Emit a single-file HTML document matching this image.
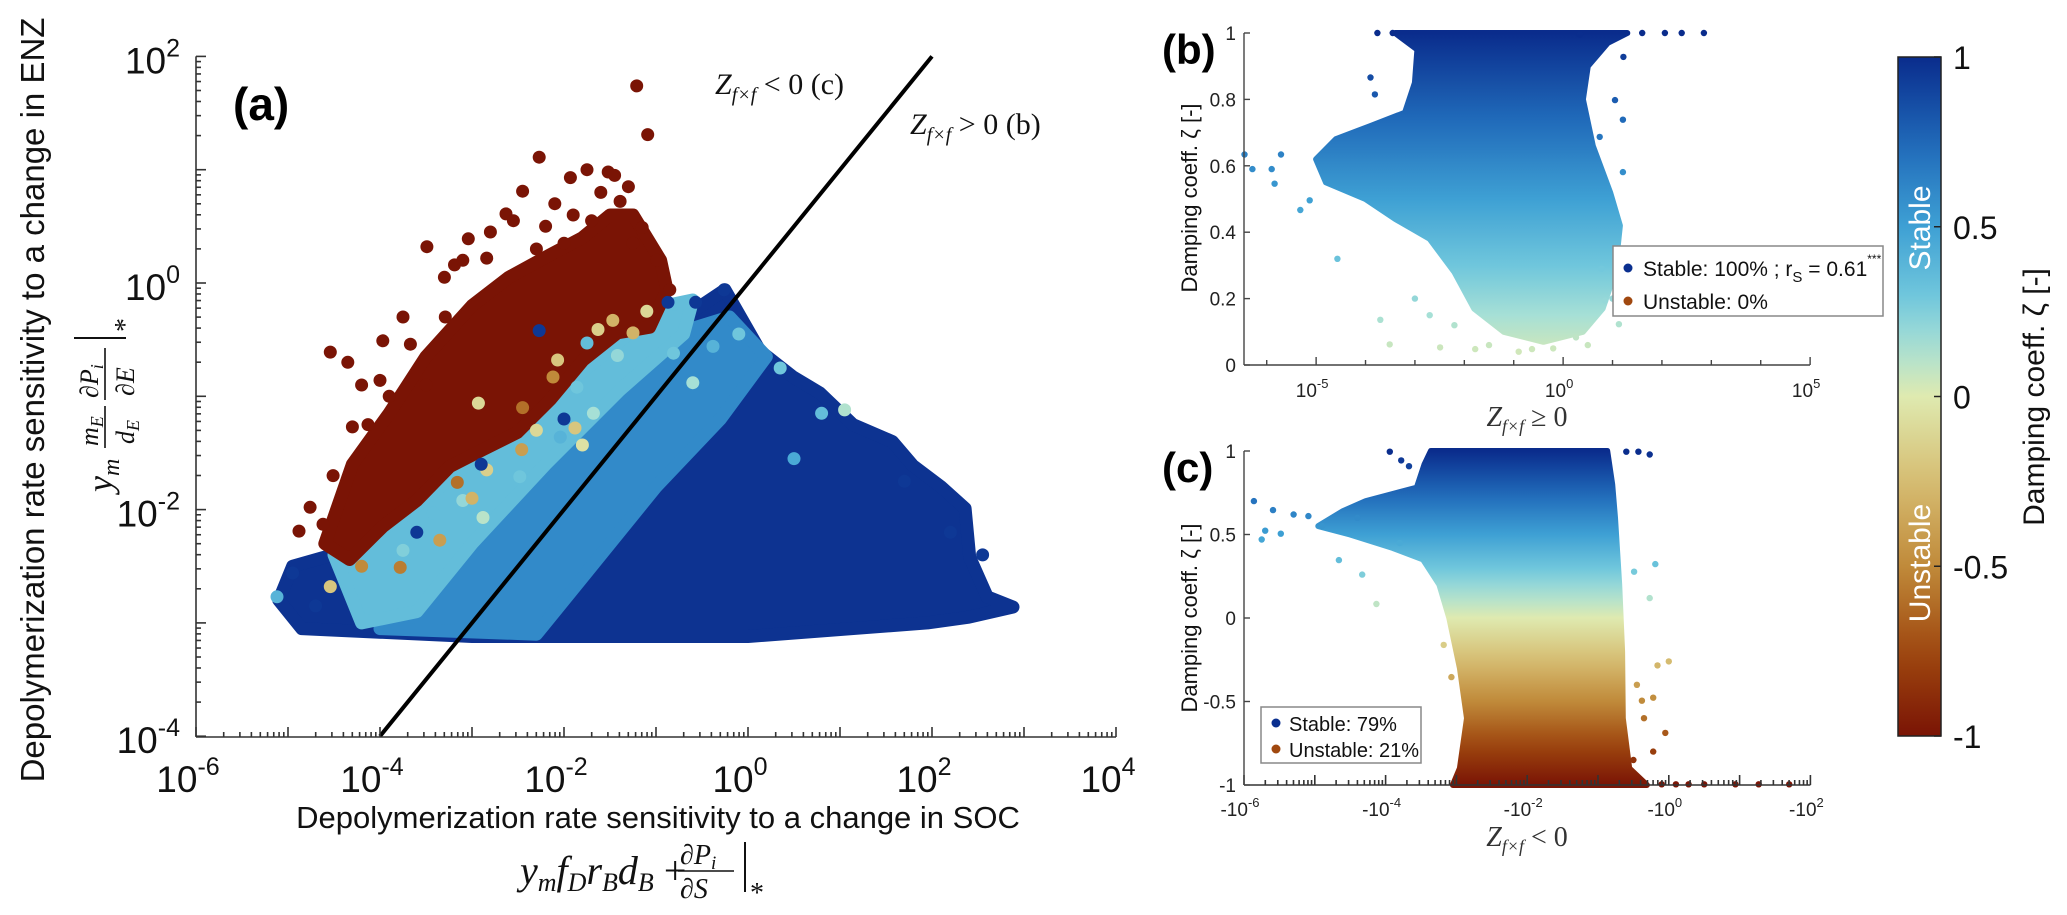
<!DOCTYPE html>
<html><head><meta charset="utf-8"><style>
html,body{margin:0;padding:0;background:#fff;}
svg{display:block;font-family:"Liberation Sans",sans-serif;}
.serif{font-family:"Liberation Serif",serif;font-style:italic;}
</style></head><body>
<svg id="fig" width="2067" height="915" viewBox="0 0 2067 915" xmlns="http://www.w3.org/2000/svg">
<defs>
<linearGradient id="gb" gradientUnits="userSpaceOnUse" x1="0" y1="33" x2="0" y2="365"></linearGradient>
<linearGradient id="gc" gradientUnits="userSpaceOnUse" x1="0" y1="451" x2="0" y2="785"></linearGradient>
<linearGradient id="gbar" gradientUnits="userSpaceOnUse" x1="0" y1="57" x2="0" y2="736"></linearGradient>
<clipPath id="clipA"><rect x="196" y="40" width="920" height="697"/></clipPath>
</defs>
<g id="panelA"></g>
<g id="panelB"></g>
<g id="panelC"></g>
<g id="cbar"></g>

<text x="233" y="120" font-size="46" font-weight="bold">(a)</text>
<text transform="translate(44,400) rotate(-90)" text-anchor="middle" font-size="33" fill="#111">Depolymerization rate sensitivity to a change in ENZ</text>
<g transform="translate(112,492) rotate(-90)" class="serif" font-size="36" fill="#111">
  <text x="0" y="0">y<tspan font-size="24" dy="7">m</tspan></text>
  <text x="46" y="-14" font-size="26">m<tspan font-size="18" dy="5">E</tspan></text>
  <line x1="44" y1="-7" x2="86" y2="-7" stroke="#111" stroke-width="1.6"/>
  <text x="48" y="22" font-size="26">d<tspan font-size="18" dy="5">E</tspan></text>
  <text x="94" y="-14" font-size="26">∂P<tspan font-size="18" dy="5">i</tspan></text>
  <line x1="92" y1="-7" x2="144" y2="-7" stroke="#111" stroke-width="1.6"/>
  <text x="96" y="22" font-size="26">∂E</text>
  <line x1="154" y1="-38" x2="154" y2="14" stroke="#111" stroke-width="2"/>
  <text x="160" y="22" font-size="28" font-style="normal">*</text>
</g>
<text x="658" y="828" text-anchor="middle" font-size="31" fill="#111">Depolymerization rate sensitivity to a change in SOC</text>
<g class="serif" font-size="40" fill="#111">
  <text x="520" y="884">y<tspan font-size="26" dy="7">m</tspan><tspan dy="-7">f</tspan><tspan font-size="26" dy="7">D</tspan><tspan dy="-7">r</tspan><tspan font-size="26" dy="7">B</tspan><tspan dy="-7">d</tspan><tspan font-size="26" dy="7">B</tspan><tspan dy="-7" font-style="normal"> + </tspan></text>
  <text x="680" y="864" font-size="28">∂P<tspan font-size="19" dy="5">i</tspan></text>
  <line x1="678" y1="871" x2="734" y2="871" stroke="#111" stroke-width="1.6"/>
  <text x="680" y="898" font-size="28">∂S</text>
  <line x1="745" y1="842" x2="745" y2="892" stroke="#111" stroke-width="2"/>
  <text x="750" y="902" font-size="28" font-style="normal">*</text>
</g>
<text x="715" y="94" class="serif" font-size="30" fill="#111">Z<tspan font-size="20" dy="7">f×f</tspan><tspan dy="-7" font-style="normal"> &lt; 0  (c)</tspan></text>
<text x="910" y="134" class="serif" font-size="30" fill="#111">Z<tspan font-size="20" dy="7">f×f</tspan><tspan dy="-7" font-style="normal"> &gt; 0  (b)</tspan></text>

<text x="1162" y="64" font-size="42" font-weight="bold">(b)</text>
<text x="1162" y="482" font-size="42" font-weight="bold">(c)</text>
<text transform="translate(1197,198) rotate(-90)" text-anchor="middle" font-size="22" fill="#111">Damping coeff. ζ [-]</text>
<text transform="translate(1197,618) rotate(-90)" text-anchor="middle" font-size="22" fill="#111">Damping coeff. ζ [-]</text>
<text x="1527" y="426" text-anchor="middle" class="serif" font-size="28" fill="#333">Z<tspan font-size="18" dy="6">f×f</tspan><tspan dy="-6" font-style="normal"> ≥ 0</tspan></text>
<text x="1527" y="846" text-anchor="middle" class="serif" font-size="28" fill="#333">Z<tspan font-size="18" dy="6">f×f</tspan><tspan dy="-6" font-style="normal"> &lt; 0</tspan></text>

<g>
  <rect x="1613" y="246" width="270" height="70" fill="#fff" stroke="#888" stroke-width="1.5"/>
  <circle cx="1628" cy="268" r="4.5" fill="#0a2f8f"/>
  <text x="1643" y="276" font-size="21" fill="#111">Stable: 100% ;  r<tspan font-size="15" dy="6">S</tspan><tspan dy="-6"> = 0.61</tspan><tspan font-size="12" dy="-13">***</tspan></text>
  <circle cx="1628" cy="301" r="4.5" fill="#a0480f"/>
  <text x="1643" y="309" font-size="21" fill="#111">Unstable: 0%</text>
</g>
<g>
  <rect x="1261" y="707" width="160" height="56" fill="#fff" stroke="#888" stroke-width="1.5"/>
  <circle cx="1276" cy="723" r="4.5" fill="#0a2f8f"/>
  <text x="1289" y="731" font-size="20" fill="#111">Stable: 79%</text>
  <circle cx="1276" cy="749" r="4.5" fill="#a0480f"/>
  <text x="1289" y="757" font-size="20" fill="#111">Unstable: 21%</text>
</g>
</svg>
<script>
const cmapVals = [-1, -0.75, -0.5, -0.25, 0, 0.15, 0.3, 0.5, 0.75, 1];
const cmapCols = ['#7a1405','#a0480f','#c08a3a','#d6bd72','#dfeab0','#a6e0d6','#6fc6dc','#3ea0d4','#1f68b8','#0a2c8c'];

// ---------- panel (a) data : log10 x, log10 y ----------
const aBlueBase = [[-5.1,-2.8],[-4.95,-2.5],[-4.3,-2.35],[-3.5,-2.1],[-2.8,-1.7],[-2,-1.2],[-1.2,-0.6],[-0.6,-0.25],[-0.25,-0.06],[0.13,-0.6],[0.49,-0.83],[0.78,-0.97],[1.14,-1.25],[1.57,-1.40],[1.79,-1.61],[2.1,-1.8],[2.36,-1.99],[2.41,-2.42],[2.6,-2.77],[2.88,-2.86],[2.4,-2.95],[1.95,-3.0],[0,-3.12],[-3,-3.12],[-4.85,-3.05]];
const aMidBand = [[-4.0,-3.05],[-3.6,-2.7],[-3,-2.2],[-2.4,-1.7],[-1.8,-1.25],[-1.2,-0.8],[-0.6,-0.4],[-0.2,-0.3],[0.2,-0.65],[-0.3,-1.2],[-1,-1.8],[-1.8,-2.6],[-2.3,-3.1]];
const aCyanBand = [[-4.5,-2.4],[-3.8,-2.1],[-3.2,-1.7],[-2.5,-1.25],[-1.9,-0.85],[-1.3,-0.45],[-0.9,-0.2],[-0.6,-0.15],[-0.7,-0.45],[-1.4,-0.95],[-2.2,-1.6],[-3,-2.3],[-3.6,-2.9],[-4.2,-3.0]];
const aRedBody = [[-4.6,-2.3],[-4.3,-1.6],[-3.9,-1.15],[-3.5,-0.65],[-3.0,-0.2],[-2.6,0.05],[-2.15,0.25],[-1.8,0.4],[-1.5,0.6],[-1.25,0.6],[-0.95,0.2],[-0.88,-0.06],[-1.07,-0.39],[-1.42,-0.44],[-1.79,-0.68],[-2.15,-1.03],[-2.51,-1.32],[-2.88,-1.47],[-3.24,-1.62],[-3.6,-1.92],[-3.97,-2.15],[-4.33,-2.44]];
const aBandZeta = {base: 0.97, mid: 0.6, cyan: 0.35, red: -1};
const aRedX = [-1.21,-1.09,-2.27,-1.52,-1.93,-2.45,-2.63,-3.04,-3.49,-3.19,-2.84,-4.54,-4.35,-3.97,-3.67,-3.29,-4.0,-4.30,-4.13,-4.76,-4.88,-4.62,-4.51,-0.85,-0.99,-1.15,-1.39,-1.7,-2.0,-2.3,-1.9,-3.9,-3.5,-1.6,-1.3,-2.1,-2.8,-3.3,-1.75,-1.45,-2.55,-3.1,-3.75,-4.2,-1.25,-2.2];
const aRedY = [1.74,1.31,1.11,0.98,0.93,0.81,0.61,0.39,0.32,0.16,0.22,-0.61,-0.70,-0.51,-0.54,-0.30,-0.86,-1.27,-1.25,-1.98,-2.19,-2.13,-1.70,-0.06,0.20,0.49,0.72,0.55,0.35,0.3,0.6,-1.0,-0.9,0.8,0.85,0.7,0.45,0.05,1.0,0.95,0.55,0.2,-0.3,-0.9,0.35,0.5];
const aTanX = [-1.63,-1.47,-2.07,-2.12,-2.93,-2.45,-1.88,-1.80,-2.46,-2.84,-3.16,-1.25,-3.35,-3.78,-4.54,-1.1,-2.3,-3.0,-4.2];
const aTanY = [-0.41,-0.33,-0.68,-0.83,-1.06,-1.10,-1.28,-1.43,-1.47,-1.65,-1.76,-0.44,-2.27,-2.51,-2.68,-0.25,-1.3,-1.9,-2.5];
const aTanZ = [-0.15,-0.3,-0.2,-0.5,-0.1,-0.6,-0.2,-0.05,-0.4,-0.15,-0.6,-0.3,-0.4,-0.55,-0.2,-0.1,-0.1,-0.3,-0.5];
const aCyanX = [-1.75,-1.42,-1.86,-1.68,-2.04,-2.48,-3.1,-3.42,-2.88,-3.75,-0.81,-0.6,-0.38,-5.12,0.35,0.8,1.05,-0.1,0.5];
const aCyanY = [-0.53,-0.64,-0.92,-1.15,-1.36,-1.71,-1.92,-2.03,-2.07,-2.36,-0.62,-0.88,-0.56,-2.77,-0.75,-1.15,-1.12,-0.45,-1.55];
const aCyanZ = [0.35,0.2,0.3,0.15,0.4,0.3,0.2,0.35,0.1,0.25,0.3,0.15,0.4,0.4,0.3,0.35,0.12,0.3,0.45];
const aBlueX = [-2.27,-0.87,-0.57,-0.26,-4.95,-4.7,2.55,2.2,1.7,-2.0,-2.9,-3.6];
const aBlueY = [-0.42,-0.17,-0.17,-0.06,-2.56,-2.85,-2.4,-2.2,-1.75,-1.2,-1.6,-2.2];

// ---------- panel (b) data : log10 Z, zeta ----------
const bRegion = [[-3.4,1.0],[1.3,1.0],[0.9,0.97],[0.5,0.9],[0.4,0.8],[0.6,0.66],[0.95,0.52],[1.15,0.42],[1.05,0.28],[0.8,0.17],[0.4,0.1],[-0.4,0.07],[-1.2,0.1],[-1.8,0.17],[-2.2,0.28],[-2.7,0.38],[-3.4,0.44],[-4.0,0.5],[-4.8,0.55],[-5.0,0.62],[-4.6,0.68],[-3.9,0.72],[-3.2,0.76],[-3.0,0.85],[-2.95,0.95]];
const bPtsX = [-6.45,-6.29,-5.90,-5.84,-5.71,-5.32,-5.13,-4.57,-3.90,-3.81,-3.70,-3.51,-2.49,-1.78,-0.63,0.26,1.13,0.85,0.78,1.21,0.74,1.21,1.05,1.22,2.85,2.06,0.34,-3.76,-3.45,1.6,2.4,-2.2,-1.5,-0.9,-0.2,0.5,-3.0,-2.7,1.4,1.0];
const bPtsY = [0.634,0.59,0.59,0.546,0.634,0.467,0.496,0.32,0.866,0.815,0.136,0.062,0.053,0.048,0.048,0.083,0.123,0.194,0.29,0.581,0.687,0.739,0.798,0.928,1,1,0.995,1,1,1,1,0.12,0.06,0.04,0.05,0.06,0.2,0.15,0.35,0.2];

// ---------- panel (c) data : log10 |Z|, zeta ----------
const cRegion = [[-3.36,1],[-0.87,1],[-0.8,0.8],[-0.76,0.6],[-0.70,0.2],[-0.66,-0.2],[-0.65,-0.6],[-0.56,-0.9],[-0.31,-1],[-3.05,-1],[-2.95,-0.9],[-2.85,-0.6],[-2.95,-0.3],[-3.1,0],[-3.24,0.2],[-3.47,0.35],[-3.9,0.42],[-4.5,0.5],[-4.95,0.55],[-4.6,0.64],[-4.28,0.7],[-3.56,0.78],[-3.45,0.92]];
const cPtsX = [-5.86,-5.59,-5.70,-5.48,-5.75,-5.09,-4.66,-4.33,-4.13,-3.94,-3.78,-3.67,-3.18,-3.07,-0.49,-0.19,-0.27,0.00,-0.16,-0.22,-0.38,-0.05,-0.22,-0.60,-0.43,-0.27,0.50,0.94,1.70,1.27,0.28,0.1,-0.1,-5.3,-4.9,-4.4,-3.8,-0.45,-0.35,-0.5];
const cPtsY = [0.70,0.646,0.523,0.505,0.47,0.61,0.347,0.26,0.084,0.996,0.944,0.909,-0.161,-0.354,0.277,0.323,0.119,-0.26,-0.284,-0.477,-0.495,-0.688,-0.80,0.996,0.996,0.979,-0.996,-0.996,-0.996,-0.996,-0.996,-0.996,-0.996,0.62,0.55,0.6,0.45,-0.4,-0.6,-0.85];

const cbTicks = [1, 0.5, 0, -0.5, -1];
const cbTickLabels = ['1','0.5','0','-0.5','-1'];
const bYTicks = [0,0.2,0.4,0.6,0.8,1];
const bYLabels = ['0','0.2','0.4','0.6','0.8','1'];
const cYTicks = [-1,-0.5,0,0.5,1];
const cYLabels = ['-1','-0.5','0','0.5','1'];

const NS='http://www.w3.org/2000/svg';
function hex(c){return [parseInt(c.slice(1,3),16),parseInt(c.slice(3,5),16),parseInt(c.slice(5,7),16)];}
function cmap(z){
  z=Math.max(-1,Math.min(1,z));
  for(let i=0;i<cmapVals.length-1;i++){
    if(z<=cmapVals[i+1]){const t=(z-cmapVals[i])/(cmapVals[i+1]-cmapVals[i]);const a=hex(cmapCols[i]),b=hex(cmapCols[i+1]);
      return 'rgb('+a.map((v,k)=>Math.round(v+(b[k]-v)*t)).join(',')+')';}
  }
  return cmapCols[cmapCols.length-1];
}
function el(tag,attrs,parent){const e=document.createElementNS(NS,tag);for(const k in attrs)e.setAttribute(k,attrs[k]);parent.appendChild(e);return e;}
function fillGrad(id,z1,z2){
  const g=document.getElementById(id);
  for(let i=0;i<=20;i++){const t=i/20;const z=z1+(z2-z1)*t;el('stop',{offset:t,'stop-color':cmap(z)},g);}
}
fillGrad('gb',1,0); fillGrad('gc',1,-1); fillGrad('gbar',1,-1);

const ax=lx=>196+(lx+6)*92, ay=ly=>283-ly*113.3;
const bx=l=>1244+(l+6.46)*49.4, by=z=>365-z*332;
const cx=m=>1244+(m+6)*70.8, cy=z=>618-z*167;

const A=document.getElementById('panelA');
const Ad=el('g',{'clip-path':'url(#clipA)'},A);


function poly(parent,pts,fx,fy,fill,sw,name){
  const p=el('polygon',{points:pts.map(q=>fx(q[0]).toFixed(1)+','+fy(q[1]).toFixed(1)).join(' '),fill:fill,stroke:fill,'stroke-width':sw,'stroke-linejoin':'round'},parent);
  
  
  return p;
}
poly(Ad,aBlueBase,ax,ay,cmap(aBandZeta.base),13,'stable-cloud');
poly(Ad,aMidBand,ax,ay,cmap(aBandZeta.mid),13,'transition-band');
poly(Ad,aCyanBand,ax,ay,cmap(aBandZeta.cyan),13,'light-stable-band');
poly(Ad,aRedBody,ax,ay,cmap(aBandZeta.red),13,'unstable-cloud');
function dots(parent,X,Y,Z,fx,fy,r,name){
  for(let i=0;i<X.length;i++){
    const c=el('circle',{cx:fx(X[i]).toFixed(1),cy:fy(Y[i]).toFixed(1),r:r,fill:cmap(Z[i])},parent);
    
    
  }
}
dots(Ad,aCyanX,aCyanY,aCyanZ,ax,ay,6.5,'point-stable-light');
dots(Ad,aTanX,aTanY,aTanZ,ax,ay,6.5,'point-unstable-weak');
dots(Ad,aBlueX,aBlueY,aBlueX.map(()=>0.95),ax,ay,6.5,'point-stable');
dots(Ad,aRedX,aRedY,aRedX.map(()=>-1),ax,ay,6.5,'point-unstable');
const dl=el('line',{x1:ax(-4),y1:ay(-4),x2:ax(2),y2:ay(2),stroke:'#000','stroke-width':4},A);


function logAxis(parent,horizontal,d0,d1,pos,fixed,tickDir,minor){
  const g=el('g',{stroke:'#333','stroke-width':1.6,fill:'none'},parent);
  if(horizontal) el('line',{x1:pos(d0),y1:fixed,x2:pos(d1),y2:fixed},g);
  else el('line',{x1:fixed,y1:pos(d0),x2:fixed,y2:pos(d1)},g);
  for(let d=d0;d<=d1;d++){
    const p=pos(d);
    if(horizontal) el('line',{x1:p,y1:fixed,x2:p,y2:fixed+tickDir*10},g); else el('line',{x1:fixed,y1:p,x2:fixed+tickDir*10,y2:p},g);
    if(minor&&d<d1) for(let k=2;k<10;k++){const q=pos(d+Math.log10(k));
      if(horizontal) el('line',{x1:q,y1:fixed,x2:q,y2:fixed+tickDir*5},g); else el('line',{x1:fixed,y1:q,x2:fixed+tickDir*5,y2:q},g);}
  }
  return g;
}
const axA=el('g',{},A);


logAxis(axA,false,-4,2,ay,196,1,true);
logAxis(axA,true,-6,4,ax,737,-1,true);
const aYTickExp=[2,0,-2,-4], aXTickExp=[-6,-4,-2,0,2,4];
aYTickExp.forEach(e=>{const t=el('text',{x:180,y:ay(e)+17,'text-anchor':'end','font-size':37,fill:'#111'},axA);t.innerHTML='10<tspan font-size="25" dy="-17">'+e+'</tspan>';
  });
aXTickExp.forEach(e=>{const t=el('text',{x:ax(e)-8,y:792,'text-anchor':'middle','font-size':37,fill:'#111'},axA);t.innerHTML='10<tspan font-size="25" dy="-17">'+e+'</tspan>';
  });

const B=document.getElementById('panelB');
poly(B,bRegion,bx,by,'url(#gb)',6,'stable-cloud-b');
dots(B,bPtsX,bPtsY,bPtsY,bx,by,3.2,'point-b');
const axB=el('g',{stroke:'#444','stroke-width':1.4,fill:'none'},B);


el('line',{x1:1244,y1:33,x2:1244,y2:365},axB);
el('line',{x1:1244,y1:365,x2:1810,y2:365},axB);
bYTicks.forEach((v,i)=>{el('line',{x1:1244,y1:by(v),x2:1250,y2:by(v)},axB);
  const t=el('text',{x:1236,y:by(v)+7,'text-anchor':'end','font-size':19,fill:'#222',stroke:'none'},B);t.textContent=bYLabels[i];
  });
for(let d=-6;d<=5;d++){const x=bx(d);if(x<1244)continue;el('line',{x1:x,y1:365,x2:x,y2:d%5===0?357:360},axB);}
[-5,0,5].forEach(e=>{const t=el('text',{x:bx(e)-4,y:397,'text-anchor':'middle','font-size':19,fill:'#222'},B);t.innerHTML='10<tspan font-size="13" dy="-9">'+e+'</tspan>';
  });

const C=document.getElementById('panelC');
poly(C,cRegion,cx,cy,'url(#gc)',6,'cloud-c');
dots(C,cPtsX,cPtsY,cPtsY,cx,cy,3.2,'point-c');
const axC=el('g',{},C);


logAxis(axC,true,-6,2,cx,785,-1,true);
el('line',{x1:1244,y1:451,x2:1244,y2:785,stroke:'#444','stroke-width':1.4},axC);
cYTicks.forEach((v,i)=>{el('line',{x1:1244,y1:cy(v),x2:1250,y2:cy(v),stroke:'#444','stroke-width':1.4},axC);
  const t=el('text',{x:1236,y:cy(v)+7,'text-anchor':'end','font-size':19,fill:'#222'},axC);t.textContent=cYLabels[i];
  });
[-6,-4,-2,0,2].forEach(e=>{const t=el('text',{x:cx(e)-4,y:816,'text-anchor':'middle','font-size':19,fill:'#222'},axC);t.innerHTML='-10<tspan font-size="13" dy="-9">'+e+'</tspan>';
  });

const CB=document.getElementById('cbar');
const cy2=z=>396.5-z*339.5;
const r=el('rect',{x:1898,y:57,width:43,height:679,fill:'url(#gbar)',stroke:'#222','stroke-width':1.5},CB);


cbTicks.forEach((v,i)=>{el('line',{x1:1934,y1:cy2(v),x2:1941,y2:cy2(v),stroke:'#222','stroke-width':1.5},CB);
  const t=el('text',{x:1953,y:cy2(v)+12,'font-size':32,fill:'#111'},CB);t.textContent=cbTickLabels[i];
  });
const st=el('text',{transform:'translate(1930,228) rotate(-90)','text-anchor':'middle','font-size':30,fill:'#fff'},CB);st.textContent='Stable';


const us=el('text',{transform:'translate(1930,563) rotate(-90)','text-anchor':'middle','font-size':30,fill:'#fff'},CB);us.textContent='Unstable';


const ct=el('text',{transform:'translate(2044,397) rotate(-90)','text-anchor':'middle','font-size':30,fill:'#111'},CB);ct.textContent='Damping coeff. ζ [-]';


</script>
</body></html>
